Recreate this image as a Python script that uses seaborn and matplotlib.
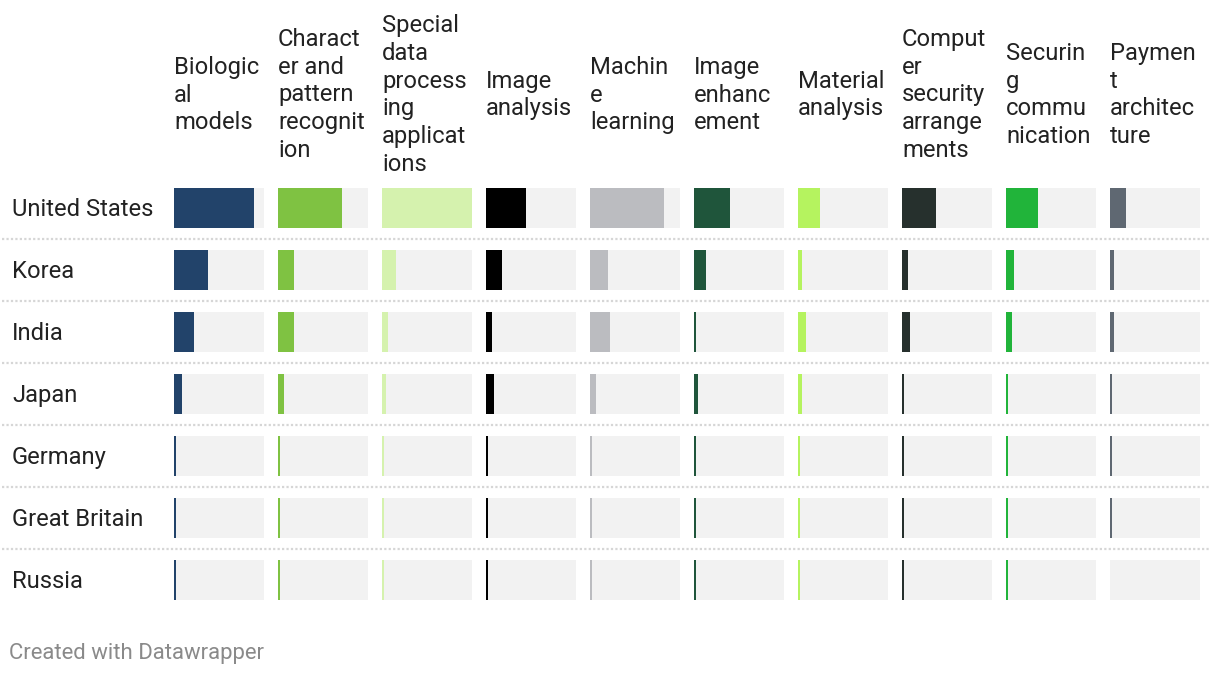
import matplotlib
matplotlib.use("Agg")
import matplotlib.pyplot as plt
import seaborn as sns
import pandas as pd

countries = ["United States", "Korea", "India", "Japan", "Germany", "Great Britain", "Russia"]
categories = [
    "Biologic\nal\nmodels",
    "Charact\ner and\npattern\nrecognit\nion",
    "Special\ndata\nprocess\ning\napplicat\nions",
    "Image\nanalysis",
    "Machin\ne\nlearning",
    "Image\nenhanc\nement",
    "Material\nanalysis",
    "Comput\ner\nsecurity\narrange\nments",
    "Securin\ng\ncommu\nnication",
    "Paymen\nt\narchitec\nture",
]
biological_models = [80, 34, 20, 8, 2, 2, 2]
character_pattern = [64, 16, 16, 6, 2, 2, 2]
special_data = [90, 14, 6, 4, 2, 2, 2]
image_analysis = [40, 16, 6, 8, 2, 2, 2]
machine_learning = [74, 18, 20, 6, 2, 2, 2]
image_enhancement = [36, 12, 2, 4, 2, 2, 2]
material_analysis = [22, 4, 8, 4, 2, 2, 2]
computer_security = [34, 6, 8, 2, 2, 2, 2]
securing_communication = [32, 8, 6, 2, 2, 2, 2]
payment_architecture = [16, 4, 4, 2, 2, 2, 0]
series = [biological_models, character_pattern, special_data, image_analysis,
          machine_learning, image_enhancement, material_analysis, computer_security,
          securing_communication, payment_architecture]
colors = ["#22436a", "#7fc242", "#d5f2ae", "#000000", "#bbbcc0",
          "#1f553b", "#b5f35f", "#26302d", "#21b43a", "#5f6872"]

sns.set_theme(style="white")
plt.rcParams["font.family"] = ["Roboto", "DejaVu Sans"]

W, H = 1220, 676
fig = plt.figure(figsize=(W / 100, H / 100), dpi=100)
fig.patch.set_facecolor("white")

top_px, bot_px = 177, 611
n = len(countries)
vmax = max(max(s) for s in series)

def fy(px):
    return 1 - px / H

bg = fig.add_axes([0, fy(bot_px), 1, (bot_px - top_px) / H])
bg.set_xlim(0, 1)
bg.set_ylim(n - 0.5, -0.5)
bg.axis("off")
for i in range(n - 1):
    bg.axhline(i + 0.5, xmin=2 / W, xmax=1210 / W, color="#d6d6d6", lw=1.6,
               ls=(0, (1, 1)), dash_capstyle="butt")
for i, c in enumerate(countries):
    bg.text(12 / W, i + 0.03, c, va="center", ha="left", fontsize=17.1, color="#222222")

for j, (cat, vals, col) in enumerate(zip(categories, series, colors)):
    left = 174 + 104 * j
    ax = fig.add_axes([left / W, fy(bot_px), 90 / W, (bot_px - top_px) / H])
    df = pd.DataFrame({"country": countries, "value": vals, "full": [vmax] * n})
    sns.barplot(data=df, x="full", y="country", color="#f2f2f2", width=40 / 62,
                saturation=1, errorbar=None, linewidth=0, ax=ax)
    sns.barplot(data=df, x="value", y="country", color=col, width=40 / 62,
                saturation=1, errorbar=None, linewidth=0, ax=ax)
    ax.set_xlim(0, vmax)
    ax.set_ylim(n - 0.5, -0.5)
    ax.axis("off")
    fig.text(left / W, fy(95), cat, va="center", ha="left", fontsize=17.1,
             color="#222222", linespacing=1.27, multialignment="left")

fig.text(9 / W, fy(653), "Created with Datawrapper", va="center", ha="left",
         fontsize=15.9, color="#8a8a8a")

fig.savefig("out.png", dpi=100, facecolor="white")
